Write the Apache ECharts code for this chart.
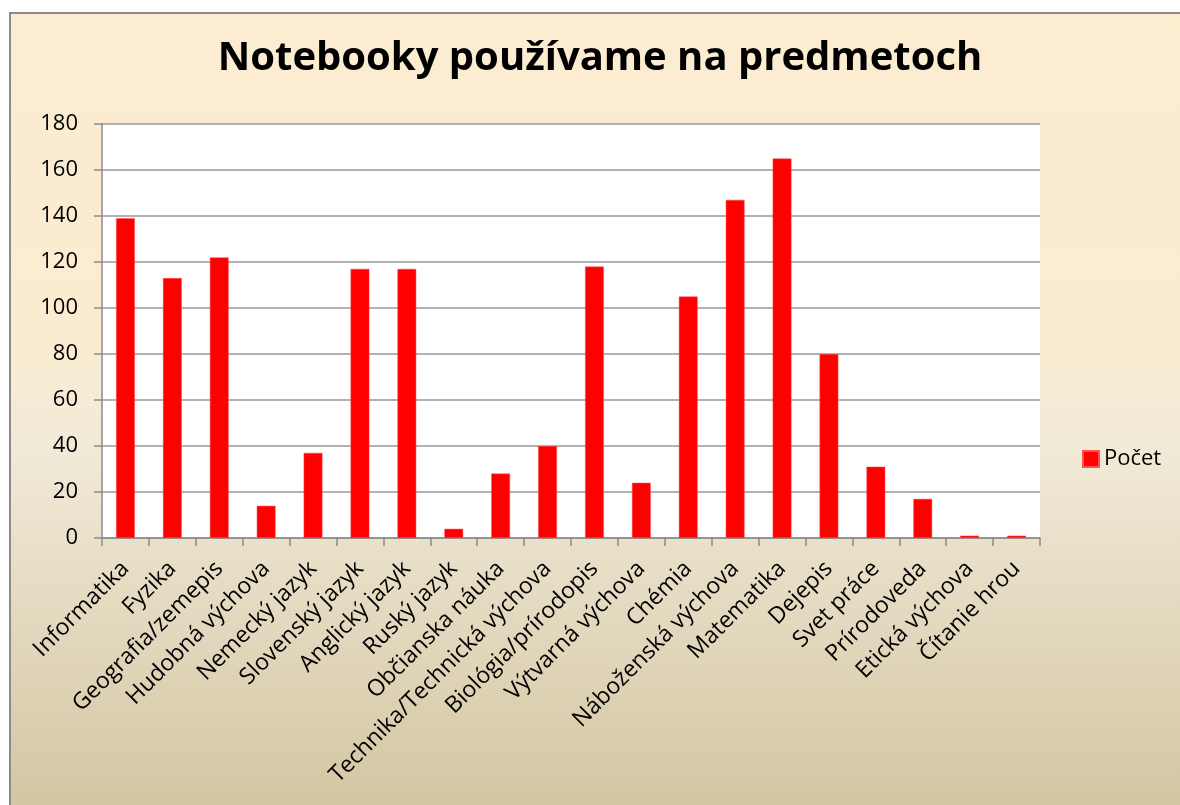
<!DOCTYPE html>
<html>
<head>
    <meta charset="utf-8">
    <title>Notebooky používame na predmetoch</title>
    <script type="text/javascript" src="https://cdn.jsdelivr.net/npm/echarts@6/dist/echarts.min.js"></script>
    <style>
        html, body { margin: 0; padding: 0; background: #fff; overflow: hidden; }
        #main {
            position: absolute; left: 9px; top: 12px;
            width: 1169px; height: 791px;
            border-left: 2px solid #8c8c8c; border-top: 2px solid #8c8c8c;
        }
    </style>
</head>
<body>
<div id="main"></div>

<script type="text/javascript">
    // predmety a pocty
    var subjects = ['Informatika', 'Fyzika', 'Geografia/zemepis', 'Hudobná výchova', 'Nemecký jazyk',
        'Slovenský jazyk', 'Anglický jazyk', 'Ruský jazyk', 'Občianska náuka', 'Technika/Technická výchova',
        'Biológia/prírodopis', 'Výtvarná výchova', 'Chémia', 'Náboženská výchova', 'Matematika',
        'Dejepis', 'Svet práce', 'Prírodoveda', 'Etická výchova', 'Čítanie hrou'];
    var counts = [139, 113, 122, 14, 37, 117, 117, 4, 28, 40, 118, 24, 105, 147, 165, 80, 31, 17, 1, 1];
    var seriesName = 'Počet';
    var yTicks = {min: 0, max: 180, interval: 20};

    var chart = echarts.init(document.getElementById('main'));
    var font = '"Open Sans", "Noto Sans", sans-serif';

    var option = {
        backgroundColor: new echarts.graphic.LinearGradient(0, 0, 0, 1, [
            {offset: 0, color: '#fcecd0'},
            {offset: 0.42, color: '#faecd2'},
            {offset: 0.55, color: '#f1ead8'},
            {offset: 1, color: '#d4c6a3'}
        ]),
        animation: false,
        title: {
            text: 'Notebooky používame na predmetoch',
            left: 584,
            top: 20,
            textAlign: 'center',
            textStyle: {
                fontFamily: font,
                fontSize: 40,
                fontWeight: 'bold',
                color: '#000'
            }
        },
        legend: {
            left: 1066,
            top: 429,
            itemWidth: 16,
            itemHeight: 16,
            itemGap: 6,
            icon: 'rect',
            textStyle: {fontFamily: font, fontSize: 22, color: '#000'},
            data: [seriesName]
        },
        grid: {
            left: 91,
            top: 110,
            right: 140,
            bottom: 267,
            show: true,
            backgroundColor: '#fff',
            borderWidth: 0
        },
        xAxis: {
            type: 'category',
            data: subjects,
            axisLine: {lineStyle: {color: '#8c8c8c', width: 1.5}},
            axisTick: {show: true, length: 8, lineStyle: {color: '#8c8c8c', width: 1.5}},
            axisLabel: {
                rotate: 45,
                interval: 0,
                margin: 27,
                fontFamily: font,
                fontSize: 23,
                color: '#000'
            }
        },
        yAxis: {
            type: 'value',
            min: yTicks.min,
            max: yTicks.max,
            interval: yTicks.interval,
            axisLine: {show: true, lineStyle: {color: '#8c8c8c', width: 1.5}},
            axisTick: {show: true, length: 8, lineStyle: {color: '#8c8c8c', width: 1.5}},
            splitLine: {lineStyle: {color: '#999', width: 1.5}},
            axisLabel: {
                margin: 24,
                fontFamily: font,
                fontSize: 22,
                color: '#000'
            }
        },
        series: [{
            name: seriesName,
            type: 'bar',
            data: counts,
            barWidth: '40%',
            itemStyle: {color: '#ff0000', borderColor: '#ff5050', borderWidth: 0.5}
        }]
    };
    chart.setOption(option);
</script>
</body>
</html>
